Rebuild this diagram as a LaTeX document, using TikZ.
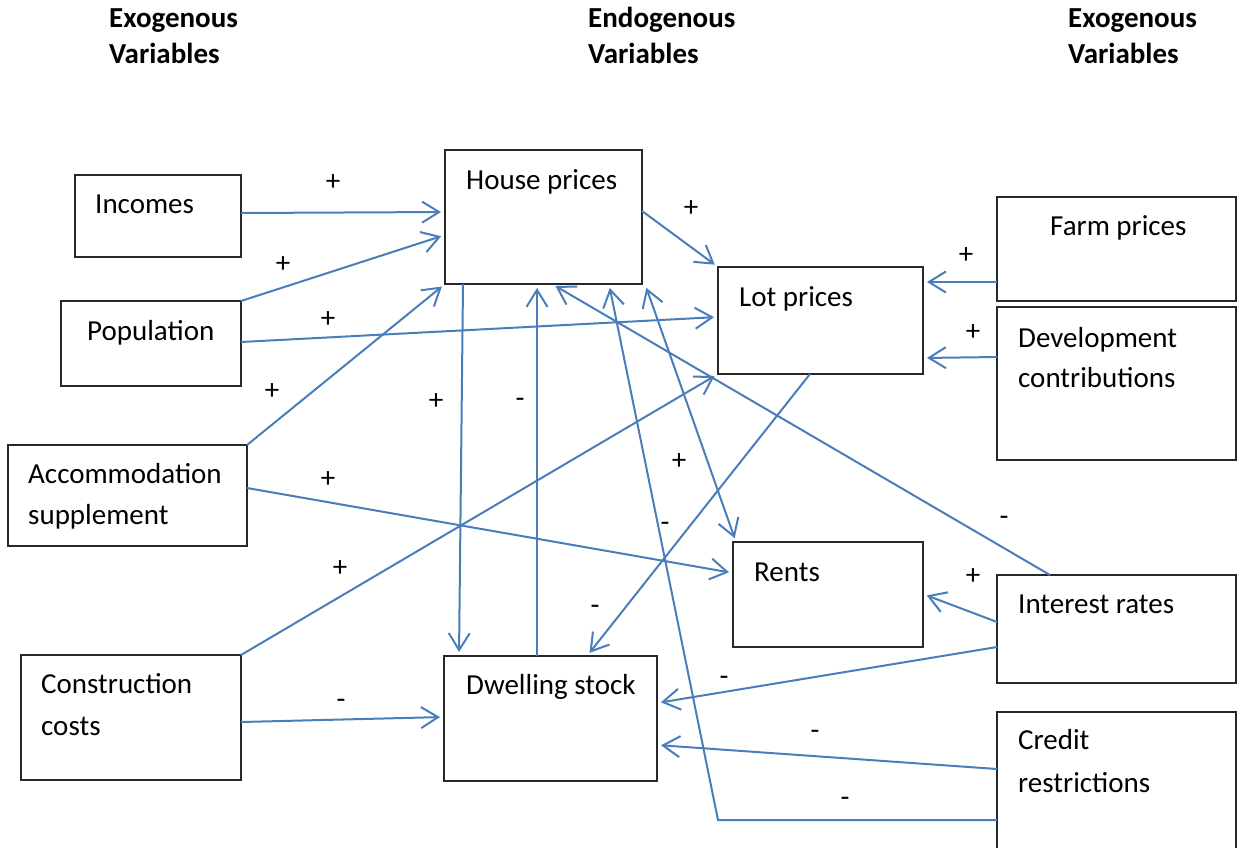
\documentclass[tikz,border=0pt]{standalone}
\usepackage{fontspec}
\setmainfont{Carlito}
\usetikzlibrary{arrows.meta,calc}
\definecolor{lineblue}{RGB}{74,126,187}
\definecolor{boxgray}{RGB}{40,40,40}
\tikzset{
  box/.style={draw=boxgray, line width=1.4pt, inner sep=0pt, outer sep=0pt, anchor=north west},
  txt/.style={anchor=base west, inner sep=0pt, font=\fontsize{29}{41}\selectfont},
  hdr/.style={anchor=base west, inner sep=0pt, font=\fontsize{29}{36}\selectfont\bfseries},
  plus/.style={anchor=base, inner sep=0pt, font=\fontsize{29}{36}\selectfont, yshift=-9.5pt},
  minus/.style={anchor=base, inner sep=0pt, font=\fontsize{29}{36}\selectfont, yshift=-8pt},
  conn/.style={draw=lineblue, line width=2pt, shorten >=4pt,
    -{Straight Barb[length=17pt,width=21pt]}},
  conn2/.style={draw=lineblue, line width=2pt, shorten >=4pt, shorten <=4pt,
    {Straight Barb[length=17pt,width=21pt]}-{Straight Barb[length=17pt,width=21pt]}},
}
\begin{document}
\begin{tikzpicture}[x=1pt,y=-1pt]
\useasboundingbox (0,0) rectangle (1237,847);
\clip (0,0) rectangle (1237,847);
\fill[white] (0,0) rectangle (1237,847);

% headers
\node[hdr] (h1a) at (109,27) {Exogenous};
\node[hdr] (h1b) at (109,63) {Variables};
\node[hdr] (h2a) at (588,27) {Endogenous};
\node[hdr] (h2b) at (588,63) {Variables};
\node[hdr] (h3a) at (1068,27) {Exogenous};
\node[hdr] (h3b) at (1068,63) {Variables};

% boxes
\node[box, minimum width=166pt, minimum height=82pt]  (inc)  at (75,175) {};
\node[box, minimum width=180pt, minimum height=85pt]  (pop)  at (61,301) {};
\node[box, minimum width=239pt, minimum height=101pt] (acc)  at (8,445) {};
\node[box, minimum width=220pt, minimum height=125pt] (con)  at (21,655) {};
\node[box, minimum width=197pt, minimum height=134pt] (hp)   at (445,150) {};
\node[box, minimum width=205pt, minimum height=107pt] (lot)  at (718,267) {};
\node[box, minimum width=190pt, minimum height=105pt] (rent) at (733,542) {};
\node[box, minimum width=213pt, minimum height=125pt] (dw)   at (444,656) {};
\node[box, minimum width=239pt, minimum height=104pt] (farm) at (997,197) {};
\node[box, minimum width=239pt, minimum height=153pt] (dev)  at (997,307) {};
\node[box, minimum width=239pt, minimum height=108pt] (int)  at (997,575) {};
\node[box, minimum width=239pt, minimum height=160pt] (cred) at (997,712) {};

% box texts
\node[txt] (inct)  at (95,213)   {Incomes};
\node[txt] (popt)  at (87,340)   {Population};
\node[txt] (acct1) at (28,483)   {Accommodation};
\node[txt] (acct2) at (28,524)   {supplement};
\node[txt] (cont1) at (41,693)   {Construction};
\node[txt] (cont2) at (41,735)   {costs};
\node[txt] (hpt)   at (466,189)  {House prices};
\node[txt] (lott)  at (739,306)  {Lot prices};
\node[txt] (rentt) at (754,581)  {Rents};
\node[txt] (dwt)   at (466,694)  {Dwelling stock};
\node[txt] (farmt) at (1050,235) {Farm prices};
\node[txt] (devt1) at (1018,347) {Development};
\node[txt] (devt2) at (1018,387) {contributions};
\node[txt] (intt)  at (1018,613) {Interest rates};
\node[txt] (credt1) at (1018,749) {Credit};
\node[txt] (credt2) at (1018,792) {restrictions};

% connectors
\draw[conn] (inc.east |- 0,213) -- (hp.west |- 0,212);
\draw[conn] (pop.north east) -- (hp.west |- 0,235);
\draw[conn] (pop.east |- 0,342) -- (lot.west |- 0,317);
\draw[conn] (acc.north east) -- (hp.south west);
\draw[conn] (acc.east |- 0,488) -- (rent.west |- 0,573);
\draw[conn] (con.north east) -- (lot.south west);
\draw[conn] (con.east |- 0,722) -- (dw.west |- 0,717);
\draw[conn] (463,0 |- hp.south) -- (459,0 |- dw.north);
\draw[conn] (537,0 |- dw.north) -- (537,0 |- hp.south);
\draw[conn] (hp.east |- 0,211) -- (lot.north west);
\draw[conn] (810,0 |- lot.south) -- (587,0 |- dw.north);
\draw[conn] (farm.west |- 0,282) -- (lot.east |- 0,282);
\draw[conn] (dev.west |- 0,357) -- (lot.east |- 0,358);
\draw[conn] (1050,0 |- int.north) -- (552,0 |- hp.south);
\draw[conn] (int.west |- 0,622) -- (rent.east |- 0,594);
\draw[conn] (int.west |- 0,647) -- (dw.east |- 0,703);
\draw[conn] (cred.west |- 0,769) -- (dw.east |- 0,745);
\coordinate (bend) at (718,820);
\draw[conn] (cred.west |- bend) -- (bend) -- (609,0 |- hp.south);
\draw[conn2] (645,0 |- hp.south) -- (736,0 |- rent.north);

% signs
\node[plus] (p1) at (333,181) {+};
\node[plus] (p2) at (283,263) {+};
\node[plus] (p3) at (328,318) {+};
\node[plus] (p4) at (272,390) {+};
\node[plus] (p5) at (436,400) {+};
\node[plus] (p6) at (328,478) {+};
\node[plus] (p7) at (340,567) {+};
\node[plus] (p8) at (691,207) {+};
\node[plus] (p9) at (966,254) {+};
\node[plus] (p10) at (973,331) {+};
\node[plus] (p11) at (679,460) {+};
\node[plus] (p12) at (973,575) {+};
\node[minus] (m1) at (520,399) {-};
\node[minus] (m2) at (665,523) {-};
\node[minus] (m3) at (595,606) {-};
\node[minus] (m4) at (1004,517) {-};
\node[minus] (m5) at (724,677) {-};
\node[minus] (m6) at (815,731) {-};
\node[minus] (m7) at (845,798) {-};
\node[minus] (m8) at (341,700) {-};
\end{tikzpicture}
\end{document}
